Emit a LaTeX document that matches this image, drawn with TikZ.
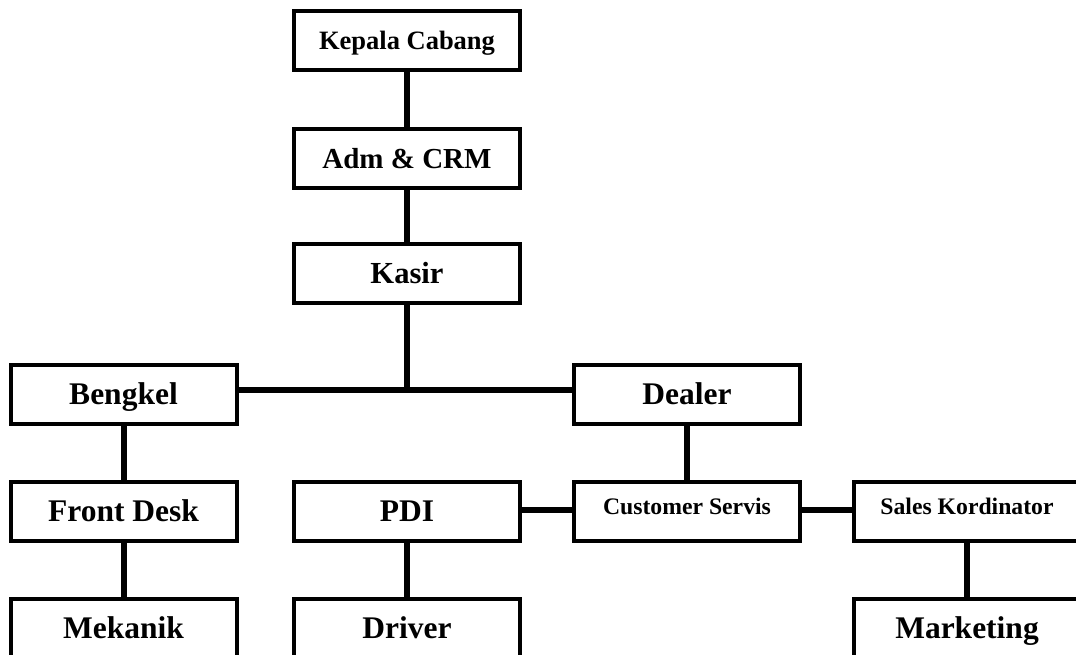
\documentclass[tikz,border=0pt]{standalone}
\usepackage{fontspec}
\setmainfont{Liberation Serif}
\begin{document}
\begin{tikzpicture}[x=1pt,y=-1pt,
  orgbox/.style={draw=black, line width=4pt, fill=white, minimum width=226pt, minimum height=59pt,
    inner sep=0pt, text height=20.9pt, text depth=0pt, font=\bfseries\fontsize{31.5}{36}\selectfont},
  smallbox/.style={orgbox, text height=15.7pt, text depth=9pt, font=\bfseries\fontsize{23.7}{28}\selectfont},
  midbox/.style={orgbox, text height=19.2pt, font=\bfseries\fontsize{29}{34}\selectfont},
  topbox/.style={orgbox, text height=17.5pt, font=\bfseries\fontsize{26.5}{31}\selectfont},
  kasirbox/.style={orgbox, text height=20.3pt, font=\bfseries\fontsize{30.6}{35}\selectfont},
  link/.style={line width=6pt, draw=black}]
\useasboundingbox (0,0) rectangle (1076,654);
\clip (0,0) rectangle (1076,654);
\coordinate (j) at (407,389.5);
\coordinate (r) at (0,509.5);
\node[topbox] (kc) at (407,40.5) {Kepala Cabang};
\node[midbox] (adm) at (407,158.5) {Adm \& CRM};
\node[kasirbox] (kasir) at (407,273.5) {Kasir};
\node[orgbox] (bengkel) at (123.5,394) {Bengkel};
\node[orgbox] (dealer) at (687,394) {Dealer};
\node[orgbox] (fd) at (123.5,511.5) {Front Desk};
\node[orgbox] (pdi) at (407,511.5) {PDI};
\node[smallbox] (cs) at (687,511.5) {Customer Servis};
\node[smallbox] (sk) at (967,511.5) {Sales Kordinator};
\node[orgbox] (mek) at (123.5,628.5) {Mekanik};
\node[orgbox] (drv) at (407,628.5) {Driver};
\node[orgbox] (mkt) at (967,628.5) {Marketing};
\draw[link] (kc.south) -- (adm.north);
\draw[link] (adm.south) -- (kasir.north);
\draw[link] (kasir.south) -- (j);
\draw[link] (bengkel.east |- j) -- (dealer.west |- j);
\draw[link] (bengkel.south) -- (fd.north);
\draw[link] (fd.south) -- (mek.north);
\draw[link] (dealer.south) -- (cs.north);
\draw[link] (pdi.east |- r) -- (cs.west |- r);
\draw[link] (cs.east |- r) -- (sk.west |- r);
\draw[link] (pdi.south) -- (drv.north);
\draw[link] (sk.south) -- (mkt.north);
\end{tikzpicture}
\end{document}
